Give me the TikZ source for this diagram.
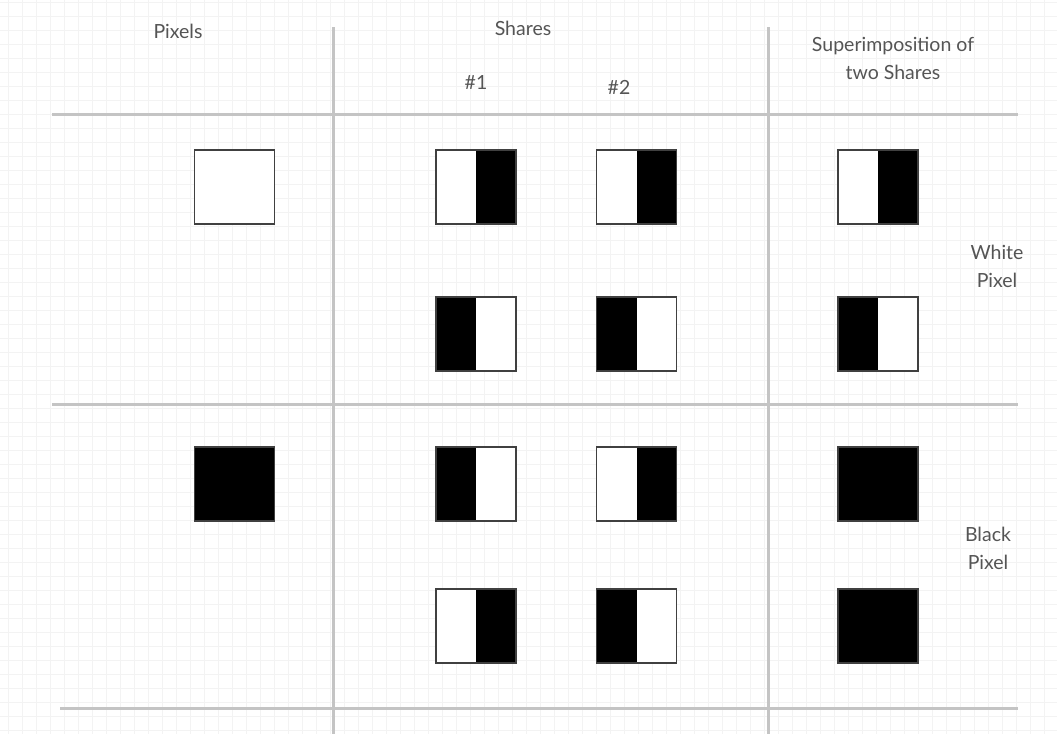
\documentclass[tikz,border=0pt]{standalone}
\usepackage{fontspec}
\setmainfont{Lato}
\usepackage{tikz}

\definecolor{rulegray}{HTML}{C4C4C4}
\definecolor{gridgray}{HTML}{F3F3F3}
\definecolor{labelgray}{HTML}{555555}

\tikzset{
  sepline/.style={rulegray, line width=3pt},
  gridline/.style={gridgray, line width=0.6pt},
  lbl/.style={text=labelgray, font=\fontsize{19.5}{23}\selectfont, align=center, inner sep=0pt},
  pixbox/.style={draw=black!75, line width=1.6pt, fill=white, minimum width=80pt, minimum height=74pt, inner sep=0pt},
  blackbox/.style={pixbox, fill=black},
  wbbox/.style={pixbox, path picture={\fill[black] (path picture bounding box.south) rectangle (path picture bounding box.north east);}},
  bwbox/.style={pixbox, path picture={\fill[black] (path picture bounding box.south west) rectangle (path picture bounding box.north);}},
}

\begin{document}
\begin{tikzpicture}[x=1pt, y=-1pt]
\useasboundingbox (0,0) rectangle (1057,734);
\fill[white] (0,0) rectangle (1057,734);
% background grid
\foreach \gx in {8,22,...,1057} \draw[gridline] (\gx,0) -- (\gx,734);
\foreach \gy in {2,16,...,734} \draw[gridline] (0,\gy) -- (1057,\gy);
%----------------- table rules -----------------
\draw[sepline] (52,114) -- (1018,114);
\draw[sepline] (52,404) -- (1018,404);
\draw[sepline] (60,708) -- (1018,708);
\draw[sepline] (333,27) -- (333,734);
\draw[sepline] (768,27) -- (768,734);
%----------------- headings -----------------
\node[lbl] (pixhead) at (178,31) {Pixels};
\node[lbl] (sharehead) at (523,28) {Shares};
\node[lbl] (share1) at (476,82) {\#1};
\node[lbl] (share2) at (619,87) {\#2};
\node[lbl] (superhead) at (893,58) {Superimposition of\\[5pt]two Shares};
%----------------- white pixel -----------------
\node[pixbox] (pixW) at (234.5,187) {};
\node[wbbox] (wA1) at (476,187) {};
\node[wbbox] (wA2) at (636.5,187) {};
\node[wbbox] (wAs) at (878,187) {};
\node[bwbox] (wB1) at (476,334) {};
\node[bwbox] (wB2) at (636.5,334) {};
\node[bwbox] (wBs) at (878,334) {};
\node[lbl] (whitelbl) at (997,266) {White\\[5pt]Pixel};
%----------------- black pixel -----------------
\node[blackbox] (pixB) at (234.5,484) {};
\node[bwbox] (bA1) at (476,484) {};
\node[wbbox] (bA2) at (636.5,484) {};
\node[blackbox] (bAs) at (878,484) {};
\node[wbbox] (bB1) at (476,626) {};
\node[bwbox] (bB2) at (636.5,626) {};
\node[blackbox] (bBs) at (878,626) {};
\node[lbl] (blacklbl) at (988,548) {Black\\[5pt]Pixel};
\end{tikzpicture}
\end{document}
